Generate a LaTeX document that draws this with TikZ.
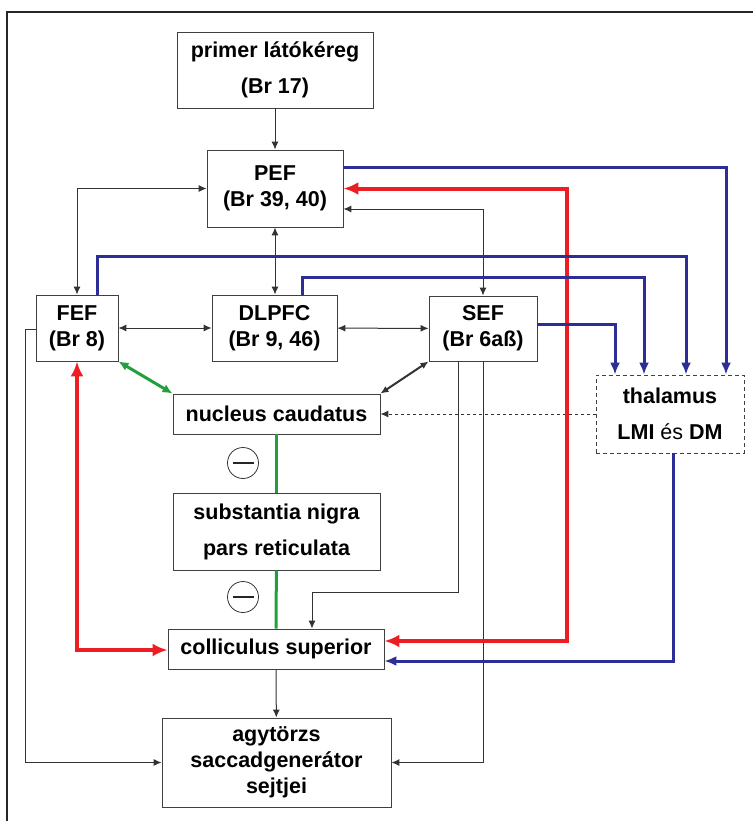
\documentclass[tikz,border=0pt]{standalone}
\usepackage{fontspec}
\setmainfont{Liberation Sans}
\usetikzlibrary{arrows.meta}
\definecolor{pathred}{RGB}{236,30,36}
\definecolor{pathblue}{RGB}{44,46,150}
\definecolor{pathgreen}{RGB}{34,160,62}

\begin{document}
\begin{tikzpicture}[x=1pt,y=-1pt]
    \tikzstyle{area}=[draw=black!75,line width=0.9pt,fill=white,inner sep=0pt,align=center,font=\bfseries\fontsize{21.5}{26}\selectfont]
    \tikzstyle{link}=[draw=black!80,line width=1pt,>={Latex[length=8pt,width=7pt]}]
    \tikzstyle{redlink}=[draw=pathred,line width=4pt,>={Latex[length=15pt,width=13pt]}]
    \tikzstyle{bluelink}=[draw=pathblue,line width=3pt,>={Latex[length=12pt,width=10pt]}]
    \tikzstyle{greenlink}=[draw=pathgreen,line width=3pt,>={Latex[length=10pt,width=9pt]}]
    \tikzstyle{minus}=[draw=black!80,circle,line width=0.8pt,minimum size=31pt,inner sep=0pt,
        path picture={\draw[line width=1.3pt,black!85] ([xshift=-10.5pt]path picture bounding box.center) -- ([xshift=10.5pt]path picture bounding box.center);}]
    \useasboundingbox (0,0) rectangle (753,821);
    \draw[black!85,line width=1.2pt] (7,821) -- (7,12) -- (753,12);
    \node[area,minimum width=196pt,minimum height=76pt] (v1) at (275,70) {primer látókéreg\\[10pt](Br 17)};
    \node[area,minimum width=136pt,minimum height=77pt] (pef) at (275,188.5) {PEF\\(Br 39, 40)};
    \node[area,minimum width=82pt,minimum height=66pt] (fef) at (77,328) {FEF\\(Br 8)};
    \node[area,minimum width=125pt,minimum height=66pt] (dlpfc) at (274.5,328) {DLPFC\\(Br 9, 46)};
    \node[area,minimum width=108pt,minimum height=65pt] (sef) at (483,328.5) {SEF\\(Br 6aß)};
    \node[area,minimum width=207pt,minimum height=40pt] (caud) at (276.5,414) {nucleus caudatus};
    \node[area,minimum width=148pt,minimum height=78pt,dash pattern=on 4pt off 3pt] (thal) at (670,414) {thalamus\\[10pt]LMI {\mdseries és} DM};
    \node[area,minimum width=207pt,minimum height=77pt] (snr) at (276.5,531.5) {substantia nigra\\[10pt]pars reticulata};
    \node[area,minimum width=216pt,minimum height=40pt] (coll) at (276,649) {colliculus superior};
    \node[area,minimum width=229pt,minimum height=89pt] (brst) at (276.5,762.5) {agytörzs\\saccadgenerátor\\sejtjei};
    \node[minus] (inh1) at (243,463) {};
    \node[minus] (inh2) at (243,597) {};

    \draw[link,->] (v1) -- (pef);
    \draw[link,<->] (pef.west) -| (fef.north);
    \draw[link,<->] (pef.south) -- (pef.south |- dlpfc.north);
    \draw[link,<->] ([yshift=-20.5pt]pef.east) -| (sef.north);
    \draw[link,<->] (fef) -- (dlpfc);
    \draw[link,<->] (dlpfc) -- (sef);
    \draw[link,->] ([yshift=-1pt]fef.west) -- ++(-10,0) |- (brst.west);
    \draw[link,->] ([xshift=-25pt]sef.south) -- ++(0,231) -| ([xshift=36pt]coll.north);
    \draw[link,->] (sef.south) |- (brst.east);
    \draw[link,<->,line width=2pt] (sef.south west) -- (caud.north east);
    \draw[link,->,dashed] (thal) -- (caud);
    \draw[link,->] (coll) -- (brst);

    \draw[greenlink,<->] (fef.south east) -- (caud.north west);
    \draw[greenlink] (caud) -- (snr);
    \draw[greenlink] (snr) -- (coll);

    \draw[redlink,<->] (pef.east) -| (567,641) -- ([yshift=8pt]coll.east);
    \draw[redlink,<->] (fef.south) |- ([yshift=-1pt]coll.west);

    \draw[bluelink,->] ([yshift=20.5pt]pef.east) -| ([xshift=56pt]thal.north);
    \draw[bluelink,->] ([xshift=20pt]fef.north) -- ++(0,-38) -| ([xshift=16pt]thal.north);
    \draw[bluelink,->] ([xshift=27.5pt]dlpfc.north) -- ++(0,-17) -| ([xshift=-26pt]thal.north);
    \draw[bluelink,->] ([yshift=4.5pt]sef.east) -| ([xshift=-55pt]thal.north);
    \draw[bluelink,->] ([xshift=3pt]thal.south) |- ([yshift=-12pt]coll.east);
\end{tikzpicture}
\end{document}
